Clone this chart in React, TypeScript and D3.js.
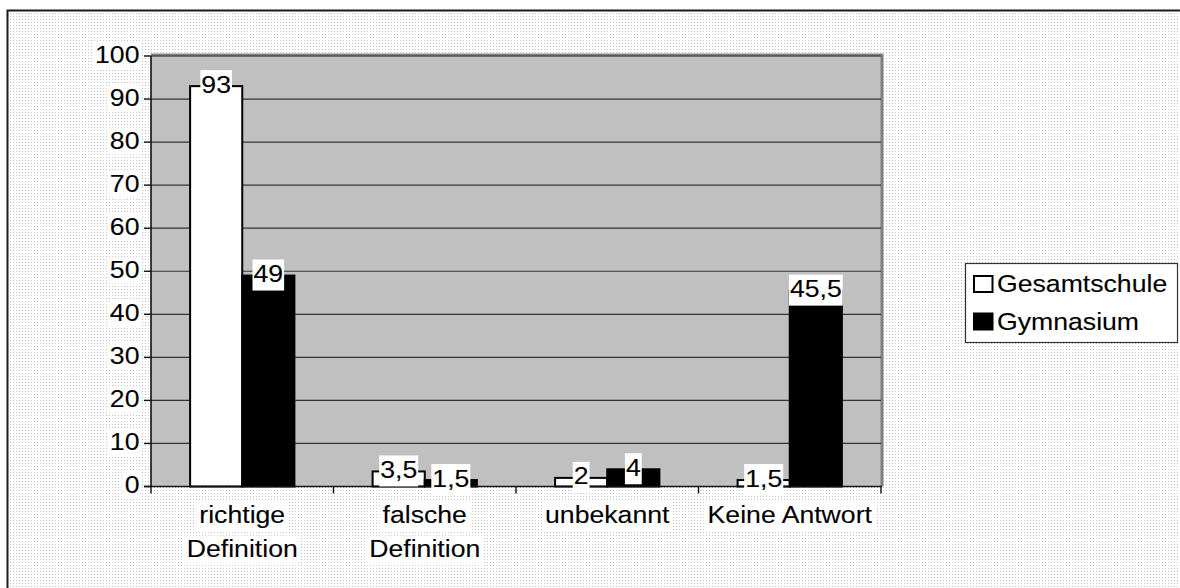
import React from 'react';
import * as d3 from 'd3';

const categories = ["richtige\nDefinition", "falsche\nDefinition", "unbekannt", "Keine Antwort"];
const seriesNames = ["Gesamtschule", "Gymnasium"];
const gesamtschule = [93, 3.5, 2, 1.5];
const gymnasium = [49, 1.5, 4, 45.5];
const yTicks = [0, 10, 20, 30, 40, 50, 60, 70, 80, 90, 100];

const W = 1180, H = 588;
const FONT = "'Liberation Sans', Arial, sans-serif";
const FS = 24;
const SX = 1.11;

let ctx: CanvasRenderingContext2D | null = null;
function measure(s: string): number {
  if (!ctx) ctx = document.createElement('canvas').getContext('2d');
  if (!ctx) return s.length * FS * 0.55 * SX;
  ctx.font = `${FS}px 'Liberation Sans', Arial, sans-serif`;
  return ctx.measureText(s).width * SX;
}

const fmt = (v: number) => String(v).replace('.', ',');

function SText({ x, y, anchor = 'start', children }: any) {
  return (
    <text transform={`translate(${x},${y}) scale(${SX},1)`} textAnchor={anchor}
      fontFamily={FONT} fontSize={FS} fill="#000" stroke="#000" strokeWidth={0.1}>{children}</text>
  );
}

export default function App() {
  const x = d3.scaleBand<string>().domain(categories).range([151, 881]).paddingInner(0).paddingOuter(0);
  const xs = d3.scaleBand<string>().domain(seriesNames).range([0, x.bandwidth()]).paddingInner(0).paddingOuter(0.75);
  const y = d3.scaleLinear().domain([0, 100]).range([486.5, 56]);
  const values = [gesamtschule, gymnasium];
  const fills = ['#ffffff', '#000000'];
  const left = x.range()[0], right = x.range()[1];
  const y0 = y(0), yTop = y(100);

  const bars: any[] = [];
  categories.forEach((c, ci) => {
    seriesNames.forEach((s, si) => {
      const v = values[si][ci];
      bars.push({ c, s, si, v, x: (x(c) as number) + (xs(s) as number), w: xs.bandwidth(), yv: y(v) });
    });
  });

  const boundaries = d3.range(categories.length + 1).map(i => left + i * x.step());

  return (
    <div style={{ position: 'absolute', left: 0, top: 0 }}>
      <svg width={W} height={H} style={{ display: 'block' }}>
        <defs>
          <pattern id="dots" width="3" height="3" patternUnits="userSpaceOnUse">
            <rect width="3" height="3" fill="#ffffff" />
            <rect x="1" y="1" width="1" height="1" fill="#c4c4c4" />
          </pattern>
        </defs>
        <rect x={0} y={0} width={W} height={H} fill="#ffffff" />
        <rect x={7.5} y={10.5} width={W + 20} height={H + 20} fill="url(#dots)" stroke="#1a1a1a" strokeWidth={2} />

        {/* plot area */}
        <rect x={left} y={yTop} width={right - left} height={y0 - yTop} fill="#c0c0c0" />
        <path d={`M${left},${yTop - 1} H${right + 1} V${y0}`} fill="none" stroke="#808080" strokeWidth={3} />
        {yTicks.filter(t => t > 0).map(t => (
          <line key={t} x1={left} x2={right} y1={y(t)} y2={y(t)} stroke="#333" strokeWidth={1.2} />
        ))}

        {/* bars */}
        {bars.map((b, i) => (
          <rect key={i} x={b.x} y={b.yv} width={b.w} height={y0 - b.yv}
            fill={fills[b.si]} stroke="#000" strokeWidth={2} />
        ))}

        {/* axes */}
        <line x1={left} x2={left} y1={yTop} y2={y0} stroke="#111" strokeWidth={1.6} />
        {yTicks.map(t => (
          <line key={t} x1={left - 7} x2={left} y1={y(t)} y2={y(t)} stroke="#111" strokeWidth={1.4} />
        ))}
        <line x1={left - 7} x2={right + 1} y1={y0} y2={y0} stroke="#111" strokeWidth={1.6} />
        {boundaries.map((bx, i) => (
          <line key={i} x1={bx} x2={bx} y1={y0} y2={y0 + 7} stroke="#111" strokeWidth={1.4} />
        ))}

        {/* y tick labels */}
        {yTicks.map(t => {
          const s = String(t);
          const w = measure(s);
          const bl = y(t) + 6.5;
          return (
            <g key={t}>
              <rect x={139.5 - w - 3} y={bl - 21} width={w + 4} height={27} fill="#fff" />
              <SText x={139.5} y={bl} anchor="end">{s}</SText>
            </g>
          );
        })}

        {/* category labels */}
        {categories.map(c => {
          const cx = (x(c) as number) + x.bandwidth() / 2;
          return c.split('\n').map((line, li) => {
            const w = measure(line);
            const bl = 523.3 + li * 33.4;
            return (
              <g key={c + li}>
                <rect x={cx - w / 2 - 3} y={bl - 21} width={w + 6} height={29.5} fill="#fff" />
                <SText x={cx} y={bl} anchor="middle">{line}</SText>
              </g>
            );
          });
        })}

        {/* data labels */}
        {bars.map((b, i) => {
          const s = fmt(b.v);
          const w = measure(s);
          const cx = b.x + b.w / 2;
          return (
            <g key={'l' + i}>
              <rect x={cx - w / 2 - 1} y={b.yv - 16} width={w + 2} height={31} fill="#fff" />
              <SText x={cx} y={b.yv + 6.5} anchor="middle">{s}</SText>
            </g>
          );
        })}

        {/* legend */}
        <rect x={965.5} y={263.5} width={212} height={79} fill="#fff" stroke="#333" strokeWidth={1.2} />
        {seriesNames.map((s, i) => (
          <g key={s}>
            <rect x={974} y={276 + i * 37.5} width={18.5} height={16} fill={fills[i]} stroke="#000" strokeWidth={2} />
            <SText x={997} y={292 + i * 37.5}>{s}</SText>
          </g>
        ))}
      </svg>
    </div>
  );
}
